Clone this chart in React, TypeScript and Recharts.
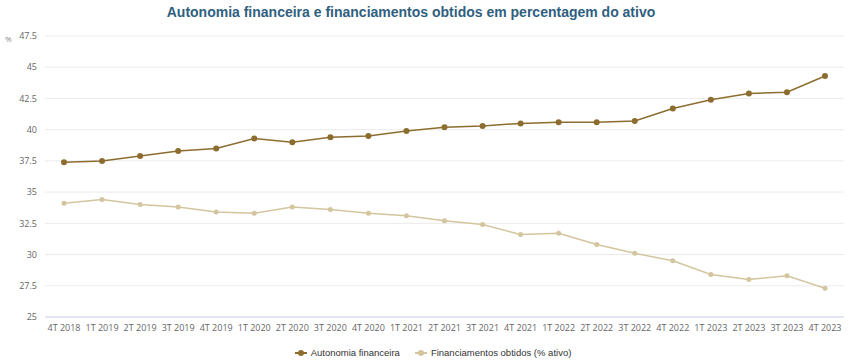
import { LineChart, Line, XAxis, YAxis, CartesianGrid, Legend } from 'recharts';

const quarters = [
  '4T 2018', '1T 2019', '2T 2019', '3T 2019', '4T 2019', '1T 2020', '2T 2020',
  '3T 2020', '4T 2020', '1T 2021', '2T 2021', '3T 2021', '4T 2021', '1T 2022',
  '2T 2022', '3T 2022', '4T 2022', '1T 2023', '2T 2023', '3T 2023', '4T 2023',
];

const autonomia = [
  37.4, 37.5, 37.9, 38.3, 38.5, 39.3, 39.0, 39.4, 39.5, 39.9, 40.2,
  40.3, 40.5, 40.6, 40.6, 40.7, 41.7, 42.4, 42.9, 43.0, 44.3,
];

const financiamentos = [
  34.1, 34.4, 34.0, 33.8, 33.4, 33.3, 33.8, 33.6, 33.3, 33.1, 32.7,
  32.4, 31.6, 31.7, 30.8, 30.1, 29.5, 28.4, 28.0, 28.3, 27.3,
];

const yTicks = [25, 27.5, 30, 32.5, 35, 37.5, 40, 42.5, 45, 47.5];

const SERIES = [
  { key: 'autonomia', name: 'Autonomia financeira', color: '#8c6d2f', r: 3 },
  { key: 'financiamentos', name: 'Financiamentos obtidos (% ativo)', color: '#d3c59e', r: 2.5 },
];

const tickStyle = { fontSize: 9, fill: '#666666', fontFamily: '"Open Sans", sans-serif' };

function LegendContent() {
  return (
    <div style={{ display: 'flex', justifyContent: 'center', gap: 15, paddingTop: 6, paddingLeft: 22, fontFamily: '"Liberation Sans", Arial, sans-serif', fontSize: 9.5, color: '#333333' }}>
      {SERIES.map(s => (
        <div key={s.key} style={{ display: 'flex', alignItems: 'center', gap: 4 }}>
          <svg width={12} height={8}>
            <line x1={0} y1={4} x2={12} y2={4} stroke={s.color} strokeWidth={2} />
            <circle cx={6} cy={4} r={3} fill={s.color} />
          </svg>
          <span>{s.name}</span>
        </div>
      ))}
    </div>
  );
}

export default function App() {
  const data = quarters.map((q, i) => ({
    q,
    autonomia: autonomia[i],
    financiamentos: financiamentos[i],
  }));

  return (
    <div style={{ position: 'absolute', left: 0, top: 0, width: 850, height: 361, background: '#ffffff' }}>
      <div style={{
        position: 'absolute', top: 4, left: 0, width: 822, textAlign: 'center',
        fontFamily: '"Liberation Sans", Arial, sans-serif', fontWeight: 'bold', fontSize: 14, color: '#2f5f80',
      }}>
        Autonomia financeira e financiamentos obtidos em percentagem do ativo
      </div>
      <div style={{ position: 'absolute', left: 5, top: 33, fontSize: 8, color: '#888888', fontFamily: '"Open Sans", sans-serif' }}>%</div>
      <LineChart width={850} height={361} data={data} margin={{ top: 36, right: 6, bottom: 0, left: 0 }}>
        <CartesianGrid vertical={false} stroke="#ebebeb" />
        <XAxis
          dataKey="q"
          interval={0}
          tickLine={false}
          axisLine={{ stroke: '#ccd6eb' }}
          tick={tickStyle}
          padding={{ left: 19, right: 19 }}
          height={24}
        />
        <YAxis
          domain={[25, 47.5]}
          ticks={yTicks}
          axisLine={false}
          tickLine={false}
          tick={tickStyle}
          width={45}
        />
        <Legend verticalAlign="bottom" height={20} content={<LegendContent />} />
        {SERIES.map(s => (
          <Line
            key={s.key}
            dataKey={s.key}
            name={s.name}
            stroke={s.color}
            strokeWidth={1.5}
            dot={{ r: s.r, fill: s.color, stroke: s.color, strokeWidth: 0 }}
            activeDot={false}
            isAnimationActive={false}
          />
        ))}
      </LineChart>
    </div>
  );
}
